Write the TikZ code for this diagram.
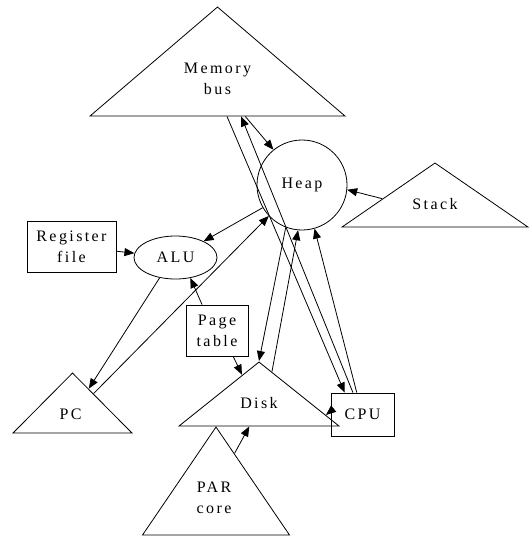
\documentclass[tikz,border=0pt]{standalone}
\usepackage{fontspec}
\setmainfont{Liberation Serif}[LetterSpace=15]
\usetikzlibrary{positioning}
\usetikzlibrary{arrows.meta}
\usetikzlibrary{calc}
\usetikzlibrary{shapes.geometric}

\begin{document}
\begin{tikzpicture}[x=1pt, y=-1pt, line width=0.8pt,
    font=\fontsize{16pt}{21pt}\selectfont,
    tri/.style={draw, isosceles triangle, isosceles triangle stretches, shape border rotate=90, inner sep=0pt, anchor=apex},
    box/.style={draw, rectangle, inner sep=0pt, align=center},
    lbl/.style={align=center, inner sep=0pt},
    arr/.style={-{Triangle[length=10pt, width=8pt]}}
]
    \useasboundingbox (0,0) rectangle (532,538);

    % Memory bus
    \node[tri, minimum width=255pt, minimum height=109pt] (MB) at (217.5,6) {};
    \node[lbl] (MBt) at ($(MB.apex)+(0,72.5)$) {Memory\\bus};

    % Heap and stack
    \node[draw, circle, minimum size=90pt, inner sep=0pt] (HP) at (302,185) {Heap};
    \node[tri, minimum width=186pt, minimum height=64pt] (ST) at (435,162) {};
    \node[lbl] (STt) at ($(ST.apex)+(0,42)$) {Stack};

    % Register file, ALU, page table
    \node[box, minimum width=89pt, minimum height=51pt] (RF) at (71.5,246.5) {Register\\file};
    \node[draw, ellipse, minimum width=83pt, minimum height=43pt, inner sep=0pt] (ALU) at (175.5,257.5) {ALU};
    \node[box, minimum width=62pt, minimum height=51pt] (PT) at (217,330.5) {Page\\table};

    % PC
    \node[tri, minimum width=119pt, minimum height=60pt] (PC) at (72.5,372) {};
    \node[lbl] (PCt) at ($(PC.apex)+(-2,42)$) {PC};

    % Disk and CPU
    \node[tri, minimum width=160pt, minimum height=64pt] (DK) at (259,361) {};
    \node[lbl] (DKt) at ($(DK.apex)+(0,42)$) {Disk};
    \node[box, minimum width=63pt, minimum height=43pt] (CPU) at (362.5,414.5) {CPU};

    % PAR core
    \node[tri, minimum width=147pt, minimum height=108pt] (PAR) at (216,426) {};
    \node[lbl] (PARt) at ($(PAR.apex)+(-2,71.5)$) {PAR\\core};

    % Memory bus edges
    \draw[arr] ($(MB.left corner)!0.537!(MB.right corner)$) -- ($(CPU.north west)!0.22!(CPU.north east)$);
    \draw[arr] ($(CPU.north west)!0.35!(CPU.north east)$) -- ($(MB.left corner)!0.592!(MB.right corner)$);
    \draw[arr] ($(MB.left corner)!0.608!(MB.right corner)$) -- (HP.129);

    % Into and out of the heap
    \draw[arr] ($(ST.apex)!0.56!(ST.left corner)$) -- (HP.-6);
    \draw[arr] (HP.210) -- (ALU.30);
    \draw[arr] ($(PC.apex)!0.35!(PC.right corner)$) -- (HP.223);
    \draw[arr] (HP.249) -- (DK.apex);
    \draw[arr] ($(DK.apex)!0.16!(DK.right corner)$) -- (HP.265);
    \draw[arr] ($(CPU.north west)!0.41!(CPU.north east)$) -- (HP.286);

    % ALU edges
    \draw[arr] (ALU.232) -- ($(PC.apex)!0.27!(PC.right corner)$);
    \draw[arr] (RF.-6) -- (ALU.174);
    \draw[arr] (PT.120) -- (ALU.-54);

    % Disk edges
    \draw[arr] (PT.-58) -- ($(DK.apex)!0.21!(DK.left corner)$);
    \draw[arr] (CPU.174) -- ($(DK.apex)!0.825!(DK.right corner)$);
    \draw[arr] ($(PAR.apex)!0.25!(PAR.right corner)$) -- ($(DK.left corner)!0.44!(DK.right corner)$);
\end{tikzpicture}
\end{document}
